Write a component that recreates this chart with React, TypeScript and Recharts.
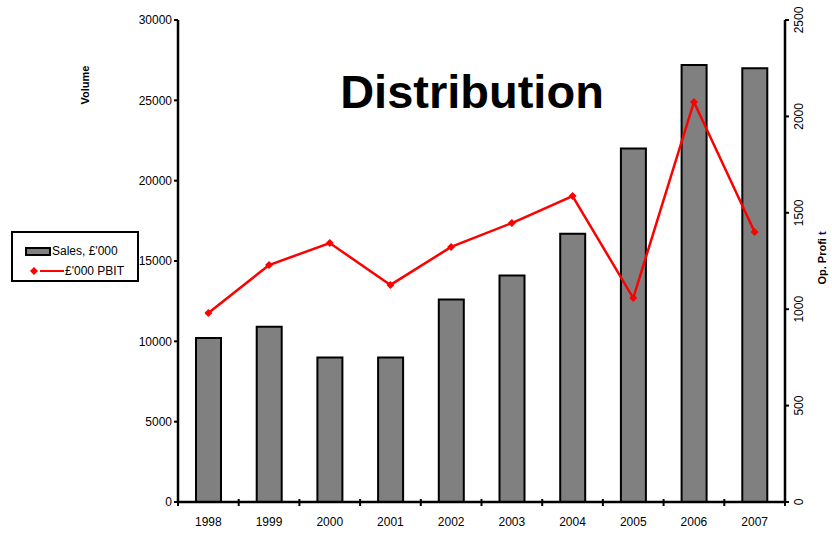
import React from 'react';
import {
  ComposedChart,
  Bar,
  Line,
  XAxis,
  YAxis,
  Legend,
} from 'recharts';

const years = ['1998', '1999', '2000', '2001', '2002', '2003', '2004', '2005', '2006', '2007'];
const sales = [10200, 10900, 9000, 9000, 12600, 14100, 16700, 22000, 27200, 27000];
const pbit = [980, 1229, 1343, 1126, 1323, 1447, 1587, 1058, 2075, 1400];
const volumeTicks = [0, 5000, 10000, 15000, 20000, 25000, 30000];
const profitTicks = [0, 500, 1000, 1500, 2000, 2500];

const data = years.map((year, i) => ({ year, sales: sales[i], pbit: pbit[i] }));

const FONT = '"Liberation Sans", Arial, Helvetica, sans-serif';

const Diamond = (props: any) => {
  const { cx, cy } = props;
  if (cx == null || cy == null) return null;
  const r = 4;
  return (
    <polygon
      points={`${cx},${cy - r} ${cx + r},${cy} ${cx},${cy + r} ${cx - r},${cy}`}
      fill="#ff0000"
    />
  );
};

// category label plus tick marks on the category boundaries
const YearTick = (props: any) => {
  const { x, y, payload, index } = props;
  const half = payload && payload.offset ? payload.offset : 30.35;
  const last = index === years.length - 1;
  return (
    <g>
      <line x1={x - half} y1={y - 3} x2={x - half} y2={y + 4} stroke="#000" strokeWidth={2} />
      {last && <line x1={x + half} y1={y - 3} x2={x + half} y2={y + 4} stroke="#000" strokeWidth={2} />}
      <text x={x} y={y + 20} textAnchor="middle" dominantBaseline="central" fontSize={12} fontFamily={FONT} fill="#000">
        {payload.value}
      </text>
    </g>
  );
};

const RightTick = (props: any) => {
  const { x, y, payload } = props;
  const tx = x + 8;
  return (
    <text
      x={tx}
      y={y}
      transform={`rotate(-90, ${tx}, ${y})`}
      textAnchor="middle"
      dominantBaseline="central"
      fontSize={12}
      fontFamily={FONT}
      fill="#000"
    >
      {payload.value}
    </text>
  );
};

const LegendBox = () => (
  <div
    style={{
      width: 124,
      height: 47,
      border: '2px solid #000',
      background: '#fff',
      fontFamily: FONT,
      fontSize: 12,
      color: '#000',
      position: 'relative',
    }}
  >
    <div style={{ position: 'absolute', left: 12, top: 11, display: 'flex', alignItems: 'center' }}>
      <span style={{ width: 22, height: 5, background: '#808080', border: '2px solid #000', display: 'inline-block' }} />
      <span style={{ marginLeft: 1 }}>Sales, £'000</span>
    </div>
    <div style={{ position: 'absolute', left: 16, top: 31, display: 'flex', alignItems: 'center' }}>
      <svg width={36} height={10}>
        <polygon points="5,1 9,5 5,9 1,5" fill="#ff0000" />
        <line x1={11} y1={5} x2={35} y2={5} stroke="#ff0000" strokeWidth={2} />
      </svg>
      <span style={{ marginLeft: 0 }}>£'000 PBIT</span>
    </div>
  </div>
);

export default function App() {
  return (
    <div style={{ position: 'absolute', left: 0, top: 0, width: 832, height: 533, background: '#fff' }}>
      <ComposedChart
        width={832}
        height={533}
        data={data}
        margin={{ top: 20, right: 0, bottom: 0, left: 0 }}
        style={{ fontFamily: FONT }}
      >
        <XAxis
          dataKey="year"
          height={31}
          interval={0}
          axisLine={{ stroke: '#000', strokeWidth: 2.5 }}
          tickLine={false}
          tickSize={0}
          tickMargin={0}
          tick={<YearTick />}
        />
        <YAxis
          yAxisId="left"
          orientation="left"
          width={178}
          domain={[0, 30000]}
          ticks={volumeTicks}
          interval={0}
          tickSize={4}
          tickMargin={2}
          axisLine={{ stroke: '#000', strokeWidth: 2.5 }}
          tickLine={{ stroke: '#000', strokeWidth: 2 }}
          tick={{ fontSize: 12, fill: '#000', fontFamily: FONT }}
          label={{
            content: () => (
              <text
                x={85}
                y={85}
                transform="rotate(-90, 85, 85)"
                textAnchor="middle"
                dominantBaseline="central"
                fontSize={11}
                fontWeight="bold"
                fontFamily={FONT}
                fill="#000"
              >
                Volume
              </text>
            ),
          }}
        />
        <YAxis
          yAxisId="right"
          orientation="right"
          width={47}
          domain={[0, 2500]}
          ticks={profitTicks}
          interval={0}
          tickSize={4}
          tickMargin={2}
          axisLine={{ stroke: '#000', strokeWidth: 2.5 }}
          tickLine={{ stroke: '#000', strokeWidth: 2 }}
          tick={<RightTick />}
          label={{
            content: () => (
              <text
                x={822}
                y={258}
                transform="rotate(-90, 822, 258)"
                textAnchor="middle"
                dominantBaseline="central"
                fontSize={11}
                fontWeight="bold"
                fontFamily={FONT}
                fill="#000"
              >
                Op. Profi <tspan fill="#000080">t</tspan>
              </text>
            ),
          }}
        />
        <Legend
          layout="vertical"
          align="center"
          verticalAlign="middle"
          wrapperStyle={{ position: 'absolute', left: 11, top: 231, width: 128 }}
          content={() => <LegendBox />}
        />
        <Bar
          yAxisId="left"
          dataKey="sales"
          name="Sales, £'000"
          barSize={25}
          fill="#808080"
          stroke="#000"
          strokeWidth={2}
          isAnimationActive={false}
        />
        <Line
          yAxisId="right"
          dataKey="pbit"
          name="£'000 PBIT"
          type="linear"
          stroke="#ff0000"
          strokeWidth={2.5}
          dot={<Diamond />}
          activeDot={false}
          isAnimationActive={false}
        />
      </ComposedChart>
      <div
        style={{
          position: 'absolute',
          left: 472,
          top: 64,
          transform: 'translateX(-50%)',
          fontFamily: FONT,
          fontWeight: 'bold',
          fontSize: 47,
          lineHeight: '56px',
          whiteSpace: 'nowrap',
          color: '#000',
        }}
      >
        Distribution
      </div>
    </div>
  );
}
